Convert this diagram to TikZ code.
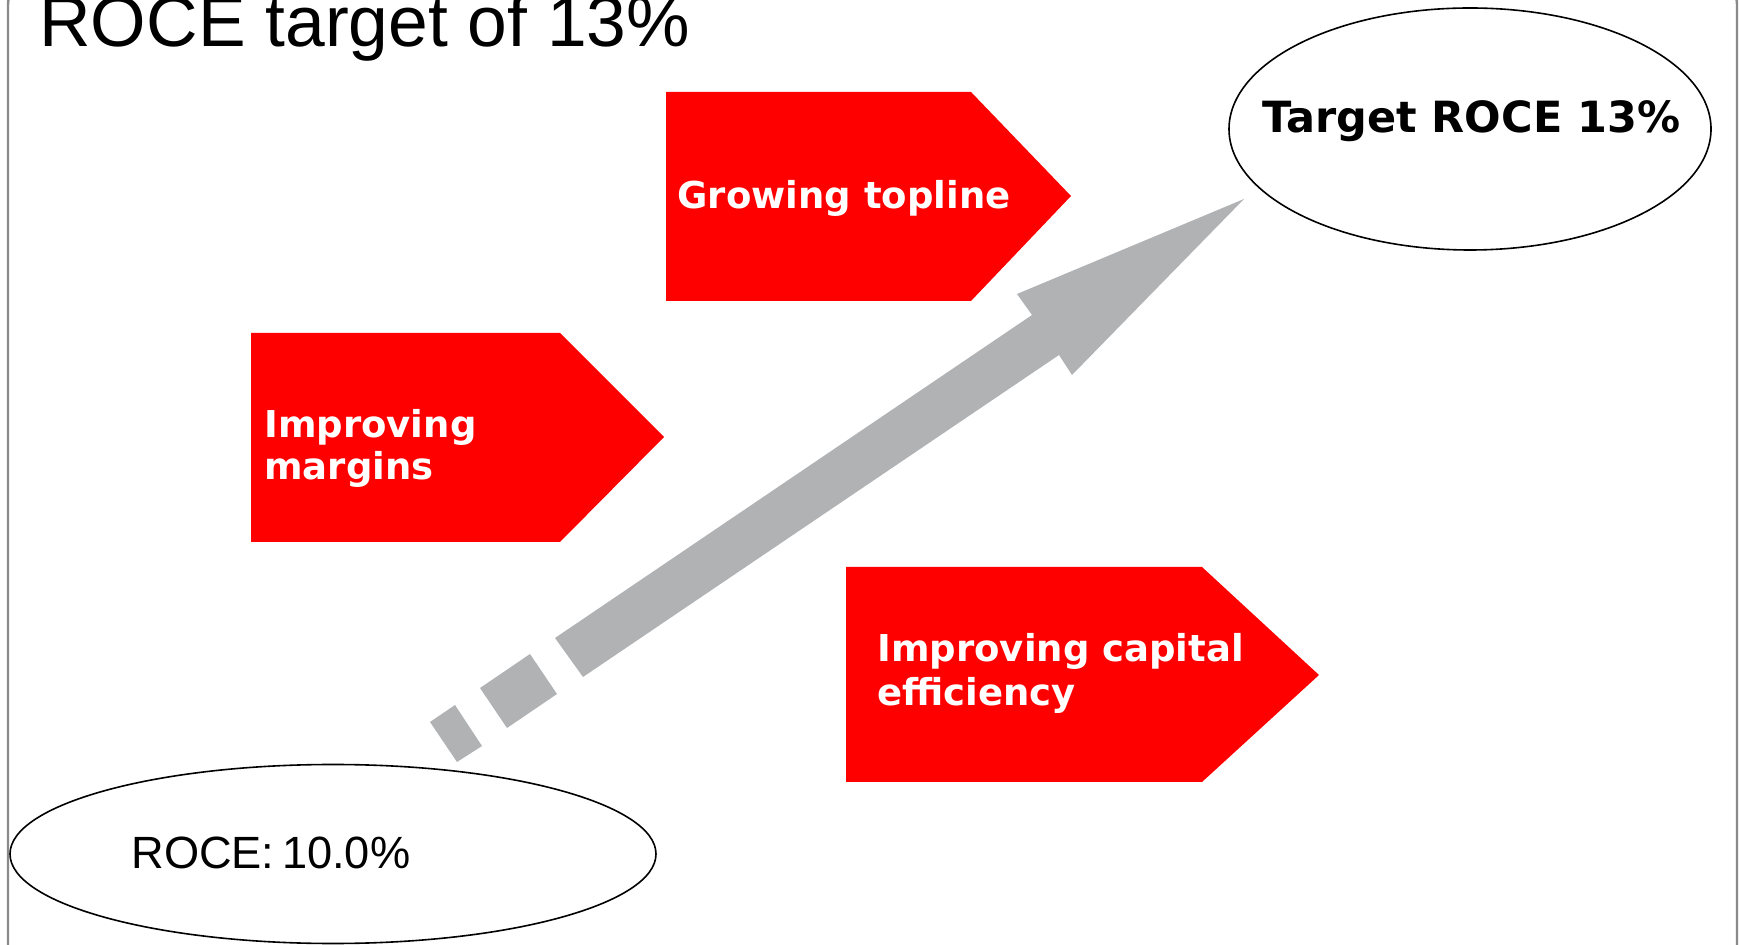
\documentclass[tikz,border=0pt]{standalone}
\usepackage{fontspec}
\setmainfont{Liberation Sans}
\newfontfamily\vfont{DejaVu Sans}
\usetikzlibrary{shapes.geometric}
\definecolor{chevred}{HTML}{FF0000}
\definecolor{arrowgray}{HTML}{B1B2B4}
\definecolor{framegray}{HTML}{8A8A8A}
\begin{document}
\begin{tikzpicture}[x=0.5pt,y=-0.5pt,
  chev/.style={fill=chevred,draw=none},
  chevtext/.style={text=white,font=\vfont\bfseries\fontsize{18.5pt}{21pt}\selectfont,inner sep=0pt,anchor=base west,align=left},
  oval/.style={draw=black,line width=0.8pt,ellipse,inner sep=0pt},
  grayblk/.style={fill=arrowgray,draw=none}]
\useasboundingbox (0,0) rectangle (1740,945);
\clip (0,0) rectangle (1740,945);
% frame
\draw[framegray,line width=1.2pt,rounded corners=15pt] (8,-25) rectangle (1737,1000);
% title
\node[anchor=base west,inner sep=0pt,font=\fontsize{35.7pt}{40pt}\selectfont] (title) at (39,47) {ROCE target of 13\%};
% ellipses
\node[oval,minimum width=323pt,minimum height=89.5pt] (roce) at (333,854) {};
\node[anchor=base west,inner sep=0pt,font=\fontsize{22.6pt}{26pt}\selectfont] (rocetext) at (131,868) {ROCE:\,10.0\%};
\node[oval,minimum width=241pt,minimum height=121pt] (target) at (1470,129) {};
\node[anchor=base west,inner sep=0pt,font=\vfont\bfseries\fontsize{21.5pt}{25pt}\selectfont] (targettext) at (1262,133) {Target ROCE 13\%};
% chevrons
\fill[chev] (666,92) -- (971,92) -- (1071,196) -- (971,301) -- (666,301) -- cycle;
\node[chevtext] (grow) at (677,209) {Growing topline};
\fill[chev] (251,333) -- (560,333) -- (664,437) -- (560,542) -- (251,542) -- cycle;
\node[chevtext] (marg1) at (264,438) {Improving};
\node[chevtext] (marg2) at (264,480) {margins};
\fill[chev] (846,567) -- (1202,567) -- (1319,675) -- (1202,782) -- (846,782) -- cycle;
\node[chevtext] (cap1) at (877,662) {Improving capital};
\node[chevtext] (cap2) at (877,706) {efficiency};
% arrow
\fill[grayblk] (430,722) -- (455,705) -- (482,746) -- (457,762) -- cycle;
\fill[grayblk] (480,688) -- (530,654) -- (557,694) -- (507,728) -- cycle;
\fill[grayblk] (555,638) -- (1032,315) -- (1017,294) -- (1244,199) -- (1072,375) -- (1059,355) -- (583,677) -- cycle;
\end{tikzpicture}
\end{document}
